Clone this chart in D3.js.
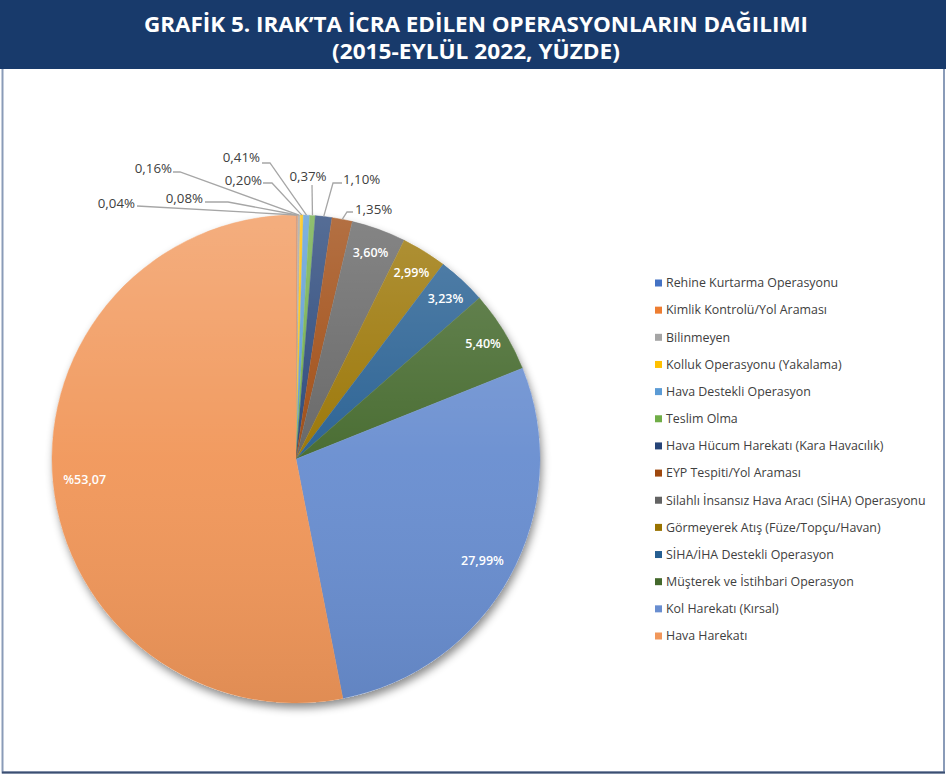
<!DOCTYPE html>
<html><head><meta charset="utf-8">
<script src="https://cdn.jsdelivr.net/npm/d3@7"></script>
<style>body{margin:0;background:#fff}svg{display:block}</style>
</head><body><svg id="c" width="946" height="775"></svg>
<script>
const categories = ["Rehine Kurtarma Operasyonu","Kimlik Kontrolü/Yol Araması","Bilinmeyen","Kolluk Operasyonu (Yakalama)","Hava Destekli Operasyon","Teslim Olma","Hava Hücum Harekatı (Kara Havacılık)","EYP Tespiti/Yol Araması","Silahlı İnsansız Hava Aracı (SİHA) Operasyonu","Görmeyerek Atış (Füze/Topçu/Havan)","SİHA/İHA Destekli Operasyon","Müşterek ve İstihbari Operasyon","Kol Harekatı (Kırsal)","Hava Harekatı"];
const values = [0.04,0.08,0.16,0.20,0.41,0.37,1.10,1.35,3.60,2.99,3.23,5.40,27.99,53.07];
const labels = ["0,04%","0,08%","0,16%","0,20%","0,41%","0,37%","1,10%","1,35%","3,60%","2,99%","3,23%","5,40%","27,99%","%53,07"];
const colors = ["#4472C4","#ED7D31","#A5A5A5","#FFC000","#5B9BD5","#70AD47","#264478","#9E480E","#636363","#997300","#255E91","#43682B","#698ED0","#F1975A"];
const titleLines = ["GRAFİK 5. IRAK’TA İCRA EDİLEN OPERASYONLARIN DAĞILIMI","(2015-EYLÜL 2022, YÜZDE)"];
// outside label layout (relative to pie centre): text anchor point, line start, elbow
const outsideLayout = {
  0:{tx:-161,ty:-256,anchor:"end",sx:-159,sy:-253,ex:-159,ey:-253},
  1:{tx:-93,ty:-261,anchor:"end",sx:-91,sy:-257,ex:-68,ey:-257},
  2:{tx:-124,ty:-291,anchor:"end",sx:-123,sy:-287,ex:-116,ey:-287},
  3:{tx:-34,ty:-279,anchor:"end",sx:-33,sy:-276,ex:-24,ey:-276},
  4:{tx:-36,ty:-302,anchor:"end",sx:-34,sy:-296,ex:-26,ey:-296},
  5:{tx:12,ty:-283,anchor:"middle",sx:16,sy:-274,ex:16,ey:-274},
  6:{tx:47,ty:-280,anchor:"start",sx:46,sy:-276,ex:37,ey:-276},
  7:{tx:59,ty:-250,anchor:"start",sx:57,sy:-247,ex:51,ey:-247}
};

const svg = d3.select("#c");
const W = 946, H = 775;
const font = "'Open Sans', 'Noto Sans', sans-serif";

// frame
svg.append("rect").attr("x",2.5).attr("y",1).attr("width",W-4.5).attr("height",H-3.5)
  .attr("fill","#fff").attr("stroke","#8a9bb8").attr("stroke-width",2);
svg.append("rect").attr("x",0).attr("y",0).attr("width",W).attr("height",69).attr("fill","#183a6b");
svg.append("line").attr("x1",2).attr("x2",W-1).attr("y1",H-2.5).attr("y2",H-2.5).attr("stroke","#3b4f72").attr("stroke-width",2);

const titleW = [664, 288];
titleLines.forEach((t,i)=>{
  svg.append("text").attr("x",476).attr("y",32+i*27).attr("text-anchor","middle")
    .attr("font-family",font).attr("font-weight",700).attr("font-size",21.5)
    .attr("fill","#fff").attr("textLength", titleW[i]).attr("lengthAdjust","spacingAndGlyphs")
    .text(t);
});

const defs = svg.append("defs");
const f = defs.append("filter").attr("id","sh").attr("x","-20%").attr("y","-20%").attr("width","140%").attr("height","140%");
f.append("feDropShadow").attr("dx",2).attr("dy",5).attr("stdDeviation",4).attr("flood-color","#000").attr("flood-opacity",0.45);
const g1 = defs.append("linearGradient").attr("id","gr").attr("x1",0).attr("y1",0).attr("x2",0).attr("y2",1);
g1.append("stop").attr("offset","0%").attr("stop-color","#fff").attr("stop-opacity",0.22);
g1.append("stop").attr("offset","50%").attr("stop-color","#fff").attr("stop-opacity",0.04);
g1.append("stop").attr("offset","100%").attr("stop-color","#000").attr("stop-opacity",0.07);

const cx = 296, cy = 459, R = 244;
const pie = d3.pie().sort(null).value(d=>d)(values);
const arc = d3.arc().innerRadius(0).outerRadius(R);
const g = svg.append("g").attr("transform",`translate(${cx},${cy})`);
const color = d3.scaleOrdinal().domain(categories).range(colors);

g.append("circle").attr("r",R).attr("fill","#fff").attr("filter","url(#sh)");
g.selectAll("path.s").data(pie).join("path").attr("class","s")
  .attr("d",arc).attr("fill",(d,i)=>color(categories[i]))
  .attr("stroke",(d,i)=>color(categories[i])).attr("stroke-width",0.4);
g.append("circle").attr("r",R).attr("fill","url(#gr)");

// inside labels
pie.forEach((d,i)=>{
  if (outsideLayout[i]) return;
  const lr = values[i] > 20 ? R*0.87 : R*0.9;
  const a = (d.startAngle+d.endAngle)/2;
  g.append("text").attr("x",lr*Math.sin(a)).attr("y",-lr*Math.cos(a)).attr("dy","0.35em")
    .attr("text-anchor","middle").attr("font-family",font).attr("font-weight",600)
    .attr("font-size",12.5).attr("fill","#fff").text(labels[i]);
});
// outside labels with leaders
pie.forEach((d,i)=>{
  const L = outsideLayout[i]; if (!L) return;
  const a = (d.startAngle+d.endAngle)/2;
  const px = R*Math.sin(a), py = -R*Math.cos(a);
  g.append("polyline").attr("points",`${L.sx},${L.sy} ${L.ex},${L.ey} ${px},${py}`)
    .attr("fill","none").attr("stroke","#a6a6a6").attr("stroke-width",1.3);
  g.append("text").attr("x",L.tx).attr("y",L.ty).attr("dy","0.35em").attr("text-anchor",L.anchor)
    .attr("font-family",font).attr("font-size",13.3).attr("fill","#404040").text(labels[i]);
});

// legend
const ly = d3.scalePoint().domain(categories).range([283,636]);
const leg = svg.append("g");
categories.forEach((c)=>{
  leg.append("rect").attr("x",655).attr("y",ly(c)-3.5).attr("width",7).attr("height",7).attr("fill",color(c));
  leg.append("text").attr("x",666).attr("y",ly(c)).attr("dy","0.35em").attr("font-family",font)
    .attr("font-size",12.4).attr("fill","#404040").text(c);
});
</script></body></html>
